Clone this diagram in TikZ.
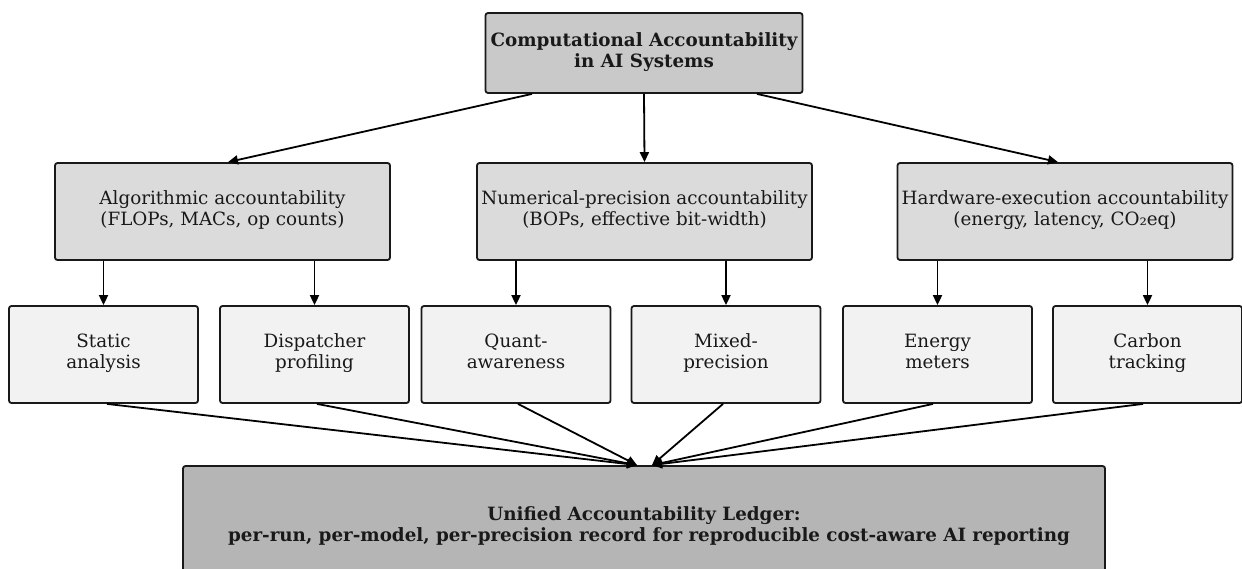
\documentclass[tikz,border=0pt]{standalone}
\usepackage{fontspec}
\setmainfont{DejaVu Serif}
\usetikzlibrary{arrows.meta}
\definecolor{topfill}{gray}{0.79}
\definecolor{midfill}{gray}{0.86}
\definecolor{leaffill}{gray}{0.95}
\definecolor{ledgerfill}{gray}{0.71}
\definecolor{txt}{gray}{0.1}
\tikzset{
  box/.style={draw=black!90, line width=1.8pt, rounded corners=2.5pt, inner sep=0pt, align=center, text=txt,
    font=\fontsize{18.3}{21.5}\selectfont, execute at begin node=\strut, execute at end node=\strut},
  topbox/.style={box, fill=topfill, minimum width=317pt, minimum height=80pt, font=\fontsize{18.3}{21}\selectfont\bfseries},
  midbox/.style={box, fill=midfill, minimum width=335pt, minimum height=97pt},
  leafbox/.style={box, fill=leaffill, minimum width=189pt, minimum height=97pt},
  ledgerbox/.style={box, fill=ledgerfill, minimum width=922pt, minimum height=122pt, font=\fontsize{18.3}{21}\selectfont\bfseries},
  conn/.style={line width=1.8pt, black, -{Triangle[length=10pt,width=9pt]}}
}
\begin{document}
\begin{tikzpicture}[x=1pt,y=-1pt]
\useasboundingbox (0,0) rectangle (1242,568);
\clip (0,0) rectangle (1242,568);
\node[topbox] (top) at (644,53) {Computational Accountability\\in AI Systems};
\node[midbox] (alg) at (222.5,211.5) {Algorithmic accountability\\(FLOPs, MACs, op counts)};
\node[midbox] (num) at (644.5,211.5) {Numerical-precision accountability\\(BOPs, effective bit-width)};
\node[midbox] (hw) at (1065,211.5) {Hardware-execution accountability\\(energy, latency, CO₂eq)};
\node[leafbox] (static) at (103.5,354.5) {Static\\analysis};
\node[leafbox] (disp) at (314.5,354.5) {Dispatcher\\profiling};
\node[leafbox] (quant) at (516,354.5) {Quant-\\awareness};
\node[leafbox] (mixed) at (726,354.5) {Mixed-\\precision};
\node[leafbox] (energy) at (937.5,354.5) {Energy\\meters};
\node[leafbox] (carbon) at (1147.5,354.5) {Carbon\\tracking};
\node[ledgerbox] (ledger) at (644,527) {Unified Accountability Ledger:\\\hspace*{10pt}per-run, per-model, per-precision record for reproducible cost-aware AI reporting};
% top to middle
\draw[conn] ([xshift=-112pt]top.south) -- ([xshift=5.5pt]alg.north);
\draw[conn] (top.south) -- (num.north);
\draw[conn] ([xshift=113pt]top.south) -- ([xshift=-7pt]hw.north);
% middle to leaves
\draw[conn] (static.north |- alg.south) -- (static.north);
\draw[conn] (disp.north |- alg.south) -- (disp.north);
\draw[conn] (quant.north |- num.south) -- (quant.north);
\draw[conn] (mixed.north |- num.south) -- (mixed.north);
\draw[conn] (energy.north |- hw.south) -- (energy.north);
\draw[conn] (carbon.north |- hw.south) -- (carbon.north);
% leaves to ledger
\draw[conn] ([xshift=3.5pt]static.south) -- ([xshift=-7pt]ledger.north);
\draw[conn] ([xshift=2.5pt]disp.south) -- ([xshift=-7pt]ledger.north);
\draw[conn] ([xshift=2pt]quant.south) -- ([xshift=-7pt]ledger.north);
\draw[conn] ([xshift=-3pt]mixed.south) -- ([xshift=8pt]ledger.north);
\draw[conn] ([xshift=-4.5pt]energy.south) -- ([xshift=8pt]ledger.north);
\draw[conn] ([xshift=-4.5pt]carbon.south) -- ([xshift=8pt]ledger.north);
\end{tikzpicture}
\end{document}
